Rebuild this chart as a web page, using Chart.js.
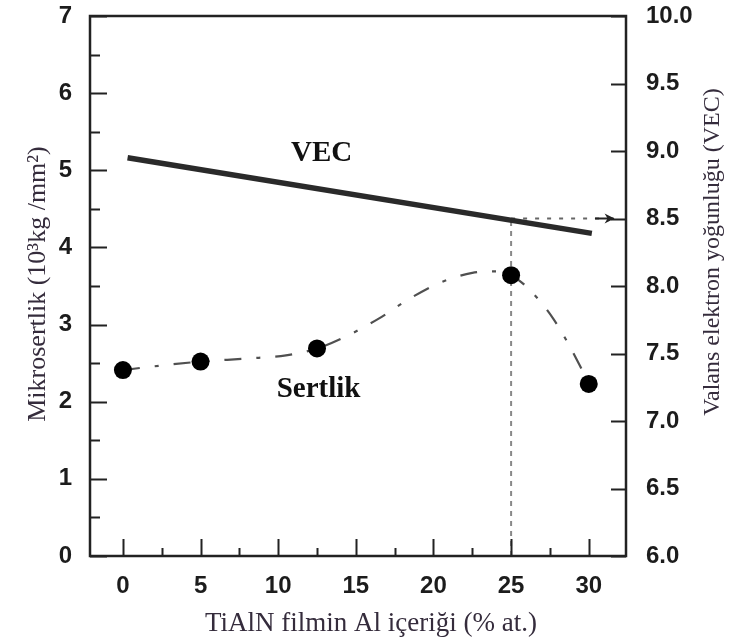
<!DOCTYPE html>
<html>
<head>
<meta charset="utf-8">
<title>TiAlN sertlik ve VEC</title>
<script src="https://cdn.jsdelivr.net/npm/chart.js@4.4.1/dist/chart.umd.min.js"></script>
<style>
  html, body { margin: 0; padding: 0; background: #fff; }
  canvas { display: block; }
</style>
</head>
<body>
<canvas id="chart" width="732" height="644"></canvas>
<script>
// measured hardness (10^3 kg/mm^2) vs Al content (% at.)
const alContent = [0, 5, 12.5, 25, 30];
const hardness = [2.41, 2.52, 2.69, 3.64, 2.23];

// hand-drawn trend curve through the hardness points
const trendX = [0, 2.5, 5, 8, 10.5, 12.5, 14.5, 16.5, 18.5, 20.5, 22.5, 24, 25, 26, 27.7, 29.4, 30];
const trendY = [2.41, 2.47, 2.52, 2.56, 2.60, 2.69, 2.86, 3.08, 3.34, 3.55, 3.67, 3.69, 3.64, 3.49, 3.08, 2.48, 2.23];

// valence electron concentration line
const vecX = [0.3, 30.2];
const vecY = [8.95, 8.39];

// guide at 25 % Al pointing to VEC = 8.5
const guideX = [25, 31.3];
const guideVec = 8.5;

const xTicks = [0, 2.5, 5, 7.5, 10, 12.5, 15, 17.5, 20, 22.5, 25, 27.5, 30];
const hardnessTicks = [0, 0.5, 1, 1.5, 2, 2.5, 3, 3.5, 4, 4.5, 5, 5.5, 6, 6.5, 7];
const vecTicks = [6, 6.5, 7, 7.5, 8, 8.5, 9, 9.5, 10];

const xTitle = 'TiAlN filmin Al içeriği (% at.)';
const yTitle = 'Mikrosertlik (10³kg /mm²)';
const y2Title = 'Valans elektron yoğunluğu (VEC)';

const ink = '#1c1c1c';
const titleInk = '#352c3c';
const tickFont = { family: '"Liberation Sans", Arial, sans-serif', size: 24, weight: 'bold' };
const serif = '"Liberation Serif", "Times New Roman", serif';

const toPoints = (xs, ys) => xs.map((x, i) => ({ x, y: ys[i] }));

const setTicks = (values) => (scale) => {
    scale.ticks = values.map((value) => ({ value }));
};

// fixed axis box; end labels are allowed to hang over the edges
const fixWidth = (width) => (scale) => {
    scale.width = width;
    scale.paddingTop = 0;
    scale.paddingBottom = 0;
};

const axisDecor = {
    id: 'axisDecor',
    afterDatasetsDraw(chart) {
        const { ctx, chartArea: area, scales } = chart;
        ctx.save();
        ctx.strokeStyle = '#222';
        ctx.lineWidth = 2;
        ctx.beginPath();

        scales.y.ticks.forEach((tick) => {
            const py = Math.round(scales.y.getPixelForValue(tick.value)) + 0.5;
            const len = Number.isInteger(tick.value) ? 17 : 10;
            ctx.moveTo(area.left, py);
            ctx.lineTo(area.left + len, py);
        });

        scales.y2.ticks.forEach((tick) => {
            const py = Math.round(scales.y2.getPixelForValue(tick.value)) + 0.5;
            ctx.moveTo(area.right, py);
            ctx.lineTo(area.right - 15, py);
        });

        scales.x.ticks.forEach((tick) => {
            const px = Math.round(scales.x.getPixelForValue(tick.value)) + 0.5;
            const len = tick.value % 5 === 0 ? 17 : 8;
            ctx.moveTo(px, area.bottom);
            ctx.lineTo(px, area.bottom - len);
        });
        ctx.stroke();

        ctx.lineWidth = 2.5;
        ctx.strokeRect(area.left, area.top, area.right - area.left, area.bottom - area.top);

        // arrow head at the end of the 8.5 guide
        const tipX = scales.x.getPixelForValue(31.6);
        const tipY = scales.y2.getPixelForValue(guideVec);
        ctx.lineWidth = 2;
        ctx.beginPath();
        ctx.moveTo(scales.x.getPixelForValue(30.4), tipY);
        ctx.lineTo(tipX, tipY);
        ctx.stroke();
        ctx.fillStyle = '#222';
        ctx.beginPath();
        ctx.moveTo(tipX + 1, tipY);
        ctx.lineTo(tipX - 9, tipY - 5);
        ctx.lineTo(tipX - 6, tipY);
        ctx.lineTo(tipX - 9, tipY + 5);
        ctx.closePath();
        ctx.fill();

        // in-plot labels
        ctx.fillStyle = '#111';
        ctx.textAlign = 'center';
        ctx.textBaseline = 'middle';
        ctx.font = `bold 29px ${serif}`;
        ctx.fillText('VEC', scales.x.getPixelForValue(12.8), scales.y2.getPixelForValue(8.98));
        ctx.fillText('Sertlik', scales.x.getPixelForValue(12.6), scales.y.getPixelForValue(2.16));

        // axis titles
        ctx.fillStyle = titleInk;
        ctx.font = `27px ${serif}`;
        ctx.fillText(xTitle, 371, 624);

        ctx.font = `26px ${serif}`;
        ctx.save();
        ctx.translate(38, 284);
        ctx.rotate(-Math.PI / 2);
        ctx.fillText(yTitle, 0, 0);
        ctx.restore();

        ctx.font = `24px ${serif}`;
        ctx.save();
        ctx.translate(713, 252);
        ctx.rotate(-Math.PI / 2);
        ctx.fillText(y2Title, 0, 0);
        ctx.restore();

        ctx.restore();
    },
};

new Chart(document.getElementById('chart'), {
    type: 'line',
    data: {
        datasets: [
            {
                data: toPoints(alContent, hardness),
                yAxisID: 'y',
                showLine: false,
                pointRadius: 9,
                pointBackgroundColor: '#000',
                pointBorderColor: '#000',
                pointBorderWidth: 0,
            },
            {
                data: toPoints(trendX, trendY),
                yAxisID: 'y',
                borderColor: '#505050',
                borderWidth: 2.2,
                borderDash: [17, 15, 4, 15],
                cubicInterpolationMode: 'monotone',
                pointRadius: 0,
            },
            {
                data: toPoints(vecX, vecY),
                yAxisID: 'y2',
                borderColor: '#2a2a2a',
                borderWidth: 5.5,
                borderCapStyle: 'butt',
                pointRadius: 0,
            },
            {
                data: [{ x: guideX[0], y: 6 }, { x: guideX[0], y: guideVec }],
                yAxisID: 'y2',
                borderColor: '#888',
                borderWidth: 2,
                borderDash: [5, 5],
                pointRadius: 0,
            },
            {
                data: guideX.map((x) => ({ x, y: guideVec })),
                yAxisID: 'y2',
                borderColor: '#666',
                borderWidth: 2.2,
                borderDash: [4, 8],
                pointRadius: 0,
            },
        ],
    },
    options: {
        responsive: false,
        animation: false,
        layout: { padding: { top: 16, left: 0, right: 0, bottom: 0 } },
        plugins: {
            legend: { display: false },
            tooltip: { enabled: false },
        },
        scales: {
            x: {
                type: 'linear',
                min: -2.12,
                max: 32.4,
                afterBuildTicks: setTicks(xTicks),
                afterFit: (scale) => { scale.height = 88; },
                grid: { display: false, drawTicks: false },
                border: { display: false },
                ticks: {
                    autoSkip: false,
                    maxRotation: 0,
                    padding: 16,
                    color: ink,
                    font: tickFont,
                    callback: (value) => (value % 5 === 0 ? value : ''),
                },
            },
            y: {
                position: 'left',
                min: 0,
                max: 7,
                afterBuildTicks: setTicks(hardnessTicks),
                afterFit: fixWidth(90),
                grid: { display: false, drawTicks: false },
                border: { display: false },
                ticks: {
                    autoSkip: false,
                    padding: 18,
                    color: ink,
                    font: tickFont,
                    callback: (value) => (Number.isInteger(value) ? value : ''),
                },
            },
            y2: {
                position: 'right',
                min: 6,
                max: 10,
                afterBuildTicks: setTicks(vecTicks),
                afterFit: fixWidth(106),
                grid: { display: false, drawTicks: false },
                border: { display: false },
                ticks: {
                    autoSkip: false,
                    padding: 20,
                    color: ink,
                    font: tickFont,
                    callback: (value) => value.toFixed(1),
                },
            },
        },
    },
    plugins: [axisDecor],
});
</script>
</body>
</html>
